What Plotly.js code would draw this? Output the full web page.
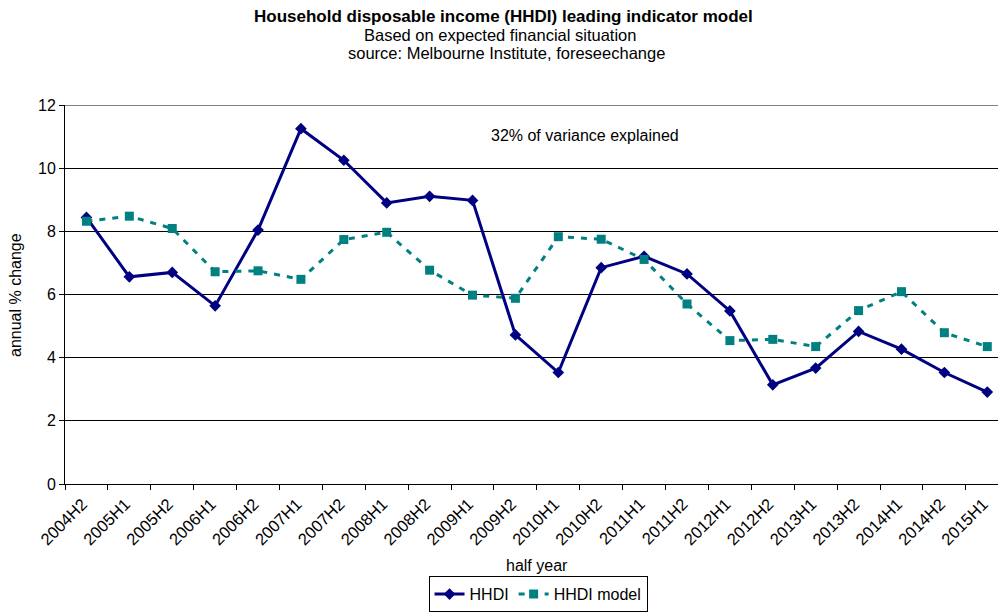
<!DOCTYPE html>
<html>
<head>
<meta charset="utf-8">
<script src="https://cdn.plot.ly/plotly-3.0.1.min.js"></script>
<style>html,body{margin:0;padding:0;overflow:hidden;background:#fff;}#chart{width:998px;height:614px;}</style>
</head>
<body>
<div id="chart"></div>
<script>
const periods = ["2004H2","2005H1","2005H2","2006H1","2006H2","2007H1","2007H2","2008H1","2008H2","2009H1","2009H2","2010H1","2010H2","2011H1","2011H2","2012H1","2012H2","2013H1","2013H2","2014H1","2014H2","2015H1"];
const hhdi = [8.44,6.56,6.70,5.64,8.04,11.25,10.25,8.90,9.11,8.98,4.72,3.53,6.85,7.21,6.65,5.48,3.14,3.67,4.83,4.27,3.53,2.91];
const hhdiModel = [8.32,8.48,8.09,6.72,6.75,6.48,7.74,7.97,6.77,5.98,5.88,7.83,7.75,7.11,5.70,4.54,4.58,4.35,5.49,6.09,4.79,4.35];
const yTicks = [0,2,4,6,8,10,12];

const F = "Liberation Sans, Arial, sans-serif";
const traces = [
  {x: periods, y: hhdi, name: "HHDI", type: "scatter", mode: "lines+markers",
   line: {color: "#000080", width: 3}, marker: {symbol: "diamond", size: 9, color: "#000080"}},
  {x: periods, y: hhdiModel, name: "HHDI model", type: "scatter", mode: "lines+markers",
   line: {color: "#008080", width: 3, dash: "6px,7px"}, marker: {symbol: "square", size: 9, color: "#008080"}}
];
const px = v => (v - 65) / 933;
const py = v => (484.5 - v) / 380;
const layout = {
  width: 998, height: 614,
  margin: {l: 65, r: 0, t: 104.5, b: 129.5},
  paper_bgcolor: "#fff", plot_bgcolor: "#fff",
  font: {family: F, size: 16, color: "#000"},
  showlegend: true,
  legend: {orientation: "h", x: 0.507, xanchor: "center", y: py(613), yanchor: "bottom",
           bordercolor: "#000", borderwidth: 1, font: {family: F, size: 16, color: "#000"},
           itemwidth: 30, tracegroupgap: 0},
  xaxis: {type: "category", range: [-0.5, 21.25], tickson: "boundaries", ticks: "outside",
          ticklen: 5, tickcolor: "#000", tickangle: -45, showgrid: false, showline: true,
          linecolor: "#000", linewidth: 1, zeroline: false, tickfont: {family: F, size: 16.5, color: "#000"},
          ticklabelstandoff: 3, ticklabelshift: -4,
          automargin: false, fixedrange: true},
  yaxis: {range: [0, 12], tickvals: yTicks, ticktext: yTicks.map(String), ticks: "outside", ticklen: 5,
          tickcolor: "#000", showgrid: true, gridcolor: "#000", gridwidth: 1, showline: true,
          linecolor: "#000", linewidth: 1, zeroline: false, tickfont: {family: F, size: 16, color: "#000"},
          automargin: false, fixedrange: true},
  shapes: [
    {type: "line", xref: "paper", yref: "y", x0: 0, x1: 1, y0: 12, y1: 12, line: {color: "#808080", width: 2}, layer: "below"}
  ],
  annotations: [
    {text: "<b>Household disposable income (HHDI) leading indicator model</b>", xref: "paper", yref: "paper",
     x: px(503), y: py(16), xanchor: "center", yanchor: "middle", showarrow: false, font: {family: F, size: 17}},
    {text: "Based on expected financial situation", xref: "paper", yref: "paper",
     x: px(500), y: py(34), xanchor: "center", yanchor: "middle", showarrow: false, font: {family: F, size: 16.5}},
    {text: "source: Melbourne Institute, foreseechange", xref: "paper", yref: "paper",
     x: px(506), y: py(52), xanchor: "center", yanchor: "middle", showarrow: false, font: {family: F, size: 16.5}},
    {text: "32% of variance explained", xref: "paper", yref: "paper",
     x: px(585), y: py(135), xanchor: "center", yanchor: "middle", showarrow: false, font: {family: F, size: 16}},
    {text: "half year", xref: "paper", yref: "paper",
     x: px(537), y: py(566), xanchor: "center", yanchor: "middle", showarrow: false, font: {family: F, size: 16}},
    {text: "annual % change", xref: "paper", yref: "paper", textangle: -90,
     x: px(16), y: py(295), xanchor: "center", yanchor: "middle", showarrow: false, font: {family: F, size: 16}}
  ]
};
Plotly.newPlot("chart", traces, layout, {displayModeBar: false, staticPlot: true});
</script>
</body>
</html>
